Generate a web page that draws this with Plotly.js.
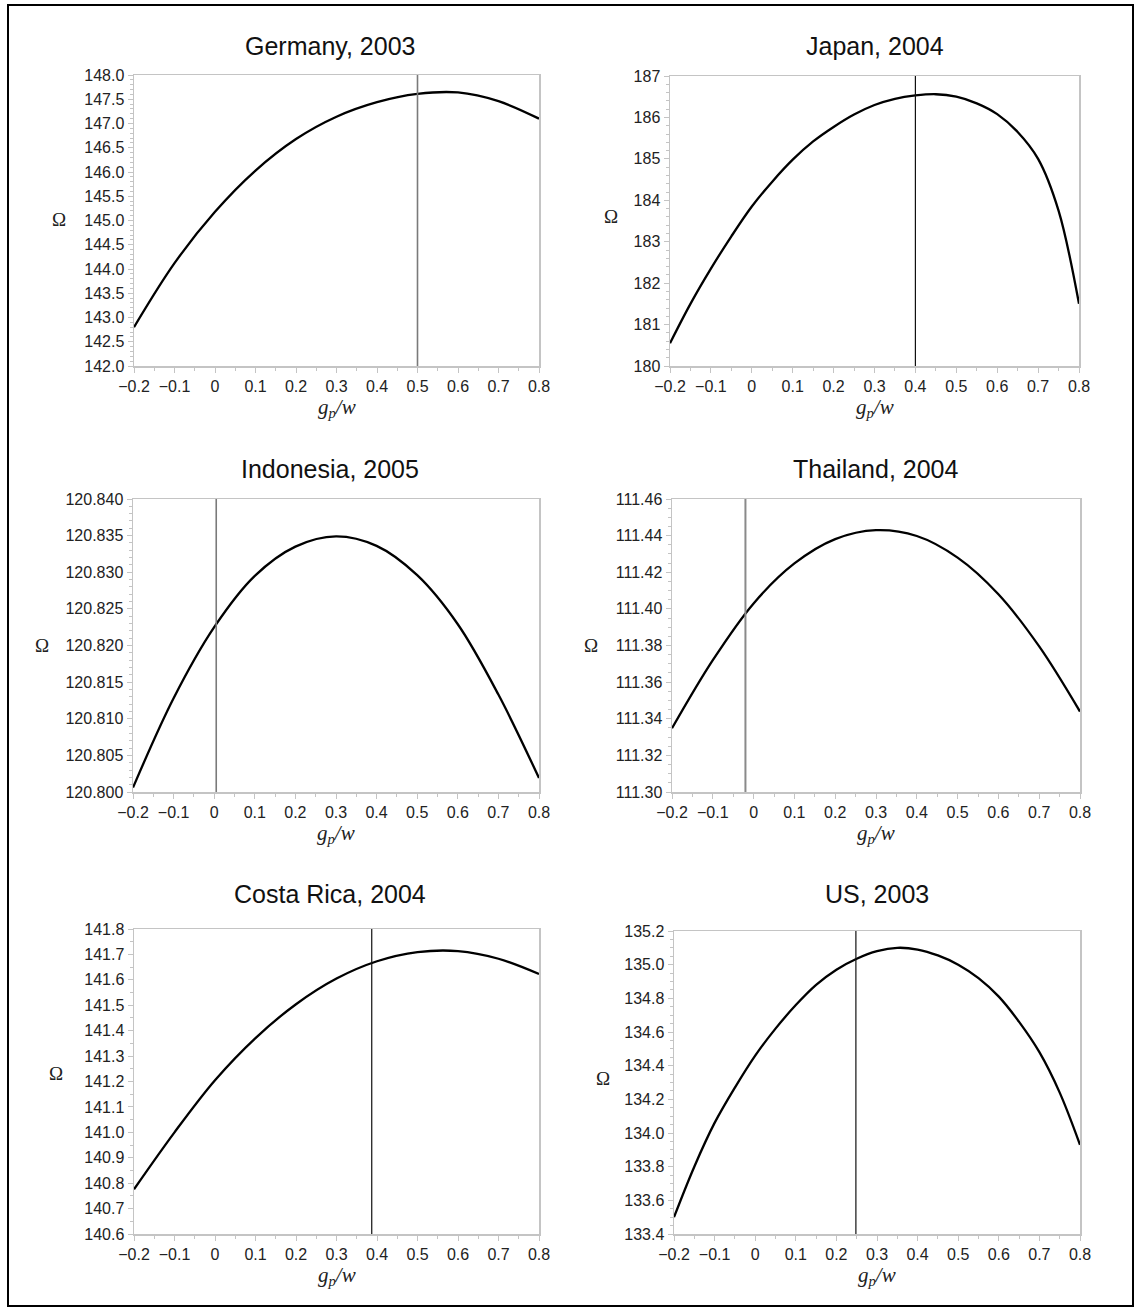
<!DOCTYPE html>
<html><head><meta charset="utf-8">
<script src="https://cdn.plot.ly/plotly-3.0.1.min.js"></script>
<style>html,body{margin:0;padding:0;background:#fff}</style>
</head><body><div id="chart" style="width:1136px;height:1310px"></div>
<script>
// ---------- DATA ----------
const panelTitles = ["Germany, 2003", "Japan, 2004", "Indonesia, 2005", "Thailand, 2004", "Costa Rica, 2004", "US, 2003"];
const xGrid = [-0.2, -0.1, 0, 0.1, 0.2, 0.3, 0.4, 0.5, 0.6, 0.7, 0.8];
const xFine = [-0.2, -0.15, -0.1, -0.05, 0, 0.05, 0.1, 0.15, 0.2, 0.25, 0.3, 0.35, 0.4, 0.45, 0.5, 0.55, 0.6, 0.65, 0.7, 0.75, 0.8];

const germanyOmega   = [142.80, 144.12, 145.18, 146.03, 146.68, 147.14, 147.44, 147.61, 147.64, 147.46, 147.10];
const japanOmega     = [180.55, 181.50, 182.35, 183.13, 183.85, 184.45, 184.98, 185.42, 185.77, 186.07, 186.30,
                        186.45, 186.53, 186.56, 186.50, 186.34, 186.08, 185.65, 185.00, 183.75, 181.50];
const indonesiaOmega = [120.8006, 120.8128, 120.8225, 120.8295, 120.8335, 120.8349, 120.8336, 120.8296, 120.8229, 120.8133, 120.8019];
const thailandOmega  = [111.3348, 111.3720, 111.4030, 111.4248, 111.4381, 111.4430, 111.4398, 111.4280, 111.4080, 111.3795, 111.3439];
const costaRicaOmega = [140.776, 141.000, 141.205, 141.371, 141.504, 141.605, 141.673, 141.709, 141.713, 141.683, 141.623];
const usOmega        = [133.50, 133.80, 134.06, 134.27, 134.46, 134.62, 134.76, 134.88, 134.97, 135.035, 135.08,
                        135.10, 135.09, 135.055, 135.00, 134.92, 134.81, 134.66, 134.48, 134.24, 133.93];

const vlineX = [0.5, 0.4, 0.005, -0.02, 0.387, 0.248];

const yRanges = [[142, 148], [180, 187], [120.800, 120.840], [111.30, 111.46], [140.6, 141.8], [133.4, 135.2]];
const yDticks = [0.5, 1, 0.005, 0.02, 0.1, 0.2];
const yMinor  = [0.1, 0.2, 0.001, 0.005, 0.05, 0.05];
const yFormats = [".1f", "d", ".3f", ".2f", ".1f", ".1f"];
const xTickVals = [-0.2, -0.1, 0, 0.1, 0.2, 0.3, 0.4, 0.5, 0.6, 0.7, 0.8];
const xTickText = ["\u22120.2", "\u22120.1", "0", "0.1", "0.2", "0.3", "0.4", "0.5", "0.6", "0.7", "0.8"];

// ---------- LAYOUT (pixels) ----------
const W = 1136, H = 1310;
const boxes = [ // [left, right, top, bottom]
  [134, 539, 75, 366],
  [670, 1079, 76, 366],
  [133, 539, 499, 792],
  [672, 1080, 499, 792],
  [134, 539, 929, 1234],
  [674, 1080, 931, 1234]
];
const titleX = [330, 875, 330, 876, 330, 877];
const titleY = [46, 46, 469, 469, 894, 894];
const omegaPos = [[59, 219], [611, 216], [42, 645], [591, 645], [56, 1073], [603, 1078]];
const vlineColor = ["#7a7a7a", "#111", "#7a7a7a", "#8a8a8a", "#111", "#111"];
const vlineWidth = [1.6, 1.2, 1.6, 2, 1.2, 1.2];

const xs = [xGrid, xFine, xGrid, xGrid, xGrid, xFine];
const ys = [germanyOmega, japanOmega, indonesiaOmega, thailandOmega, costaRicaOmega, usOmega];

const px = v => v / W;
const py = v => 1 - v / H;
const FONT = "Liberation Sans, Arial, sans-serif";
const frame = "#c4c4c4";

const data = [];
const layout = {
  width: W, height: H,
  margin: {l: 0, r: 0, t: 0, b: 0},
  paper_bgcolor: "#fff", plot_bgcolor: "#fff",
  showlegend: false,
  font: {family: FONT, size: 16, color: "#222"},
  annotations: [], shapes: []
};

for (let i = 0; i < 6; i++) {
  const n = i === 0 ? "" : String(i + 1);
  const [l, r, t, b] = boxes[i];
  data.push({
    type: "scatter", mode: "lines", x: xs[i], y: ys[i],
    xaxis: "x" + n, yaxis: "y" + n,
    line: {color: "#000", width: 2.3, shape: "spline", smoothing: 1},
    hoverinfo: "skip"
  });
  layout["xaxis" + n] = {
    domain: [px(l), px(r)], anchor: "y" + n, range: [-0.2, 0.8],
    showgrid: false, zeroline: false, showline: true, mirror: true,
    linecolor: frame, linewidth: 1.5,
    ticks: "outside", ticklen: 5, tickcolor: frame, tickwidth: 1,
    tickvals: xTickVals, ticktext: xTickText,
    tickfont: {family: FONT, size: 16, color: "#222"},
    minor: {dtick: 0.05, ticks: "outside", ticklen: 3, tickcolor: frame, showgrid: false},
    fixedrange: true
  };
  layout["yaxis" + n] = {
    domain: [py(b), py(t)], anchor: "x" + n, range: yRanges[i],
    showgrid: false, zeroline: false, showline: true, mirror: true,
    linecolor: frame, linewidth: 1.5,
    ticks: "outside", ticklen: 5, tickcolor: frame, tickwidth: 1,
    tick0: yRanges[i][0], dtick: yDticks[i], tickformat: yFormats[i],
    tickfont: {family: FONT, size: 16, color: "#222"},
    minor: {dtick: yMinor[i], ticks: "outside", ticklen: 3, tickcolor: frame, showgrid: false},
    fixedrange: true
  };
  layout.shapes.push({
    type: "line", xref: "x" + n, yref: "y" + n + " domain",
    x0: vlineX[i], x1: vlineX[i], y0: 0, y1: 1,
    line: {color: vlineColor[i], width: vlineWidth[i]}
  });
  layout.annotations.push({
    text: panelTitles[i], xref: "paper", yref: "paper",
    x: px(titleX[i]), y: py(titleY[i]), xanchor: "center", yanchor: "middle",
    showarrow: false, font: {family: FONT, size: 25, color: "#111"}
  });
  layout.annotations.push({
    text: "\u03A9", xref: "paper", yref: "paper",
    x: px(omegaPos[i][0]), y: py(omegaPos[i][1]), xanchor: "center", yanchor: "middle",
    showarrow: false, font: {family: "Liberation Serif, serif", size: 19, color: "#222"}
  });
  layout.annotations.push({
    text: "<i>g</i><sub><i>p</i></sub><i>/w</i>", xref: "paper", yref: "paper",
    x: px((l + r) / 2), y: py(b + 42), xanchor: "center", yanchor: "middle",
    showarrow: false, font: {family: "Liberation Serif, serif", size: 21, color: "#222"}
  });
}
// figure border
layout.shapes.push({
  type: "rect", xref: "paper", yref: "paper",
  x0: px(8), x1: px(1133), y0: py(1306), y1: py(5),
  line: {color: "#000", width: 2}
});

Plotly.newPlot("chart", data, layout, {displayModeBar: false, staticPlot: true});
</script></body></html>
